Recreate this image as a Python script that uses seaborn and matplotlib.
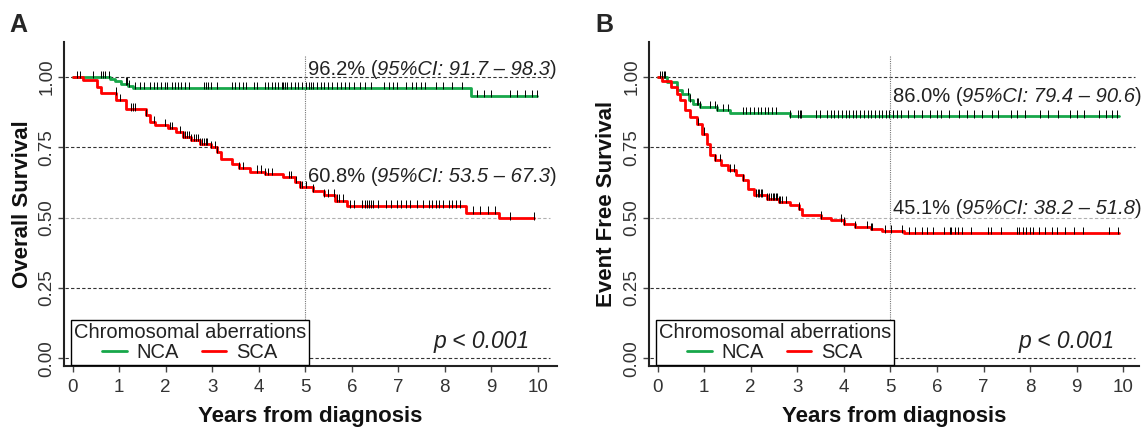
import numpy as np
import pandas as pd
import matplotlib
matplotlib.use('Agg')
import matplotlib.pyplot as plt
import seaborn as sns
from matplotlib.lines import Line2D

# ---- data ----
groups = ['NCA', 'SCA']
colors = ['#17A74A', '#FF0000']
legend_title = 'Chromosomal aberrations'
panel_letters = ['A', 'B']
y_labels = ['Overall Survival', 'Event Free Survival']
x_label = 'Years from diagnosis'
p_text = 'p < 0.001'

# A: overall survival, step curves (time in years, survival)
os_nca_time = [0, 0.80, 0.92, 1.05, 1.20, 1.30, 8.56, 9.98]
os_nca_surv = [1.0, 0.992, 0.985, 0.977, 0.969, 0.962, 0.933, 0.933]
os_sca_time = [0, 0.22, 0.52, 0.62, 0.94, 1.14, 1.58, 1.66, 1.78, 2.06, 2.22, 2.38, 2.54, 2.74,
               2.98, 3.10, 3.18, 3.42, 3.58, 3.81, 4.13, 4.53, 4.77, 4.89, 5.17, 5.41, 5.65, 5.89,
               8.46, 9.16, 9.92]
os_sca_surv = [1.0, 0.989, 0.965, 0.942, 0.918, 0.885, 0.864, 0.840, 0.829, 0.819, 0.805, 0.787,
               0.775, 0.763, 0.751, 0.733, 0.710, 0.692, 0.676, 0.664, 0.656, 0.644, 0.626, 0.608,
               0.596, 0.579, 0.561, 0.540, 0.518, 0.497, 0.497]

# B: event free survival
efs_nca_time = [0, 0.21, 0.42, 0.53, 0.67, 0.77, 0.92, 1.27, 1.55, 2.85, 9.92]
efs_nca_surv = [1.0, 0.982, 0.953, 0.941, 0.917, 0.905, 0.893, 0.882, 0.873, 0.860, 0.860]
efs_sca_time = [0, 0.10, 0.28, 0.42, 0.49, 0.60, 0.70, 0.85, 0.95, 1.06, 1.13, 1.23, 1.37, 1.51,
                1.69, 1.83, 1.94, 2.08, 2.36, 2.61, 2.85, 3.03, 3.10, 3.52, 3.73, 4.01, 4.23, 4.58,
                4.82, 5.30, 9.91]
efs_sca_surv = [1.0, 0.988, 0.964, 0.941, 0.917, 0.882, 0.858, 0.834, 0.799, 0.763, 0.722, 0.704,
                0.686, 0.668, 0.650, 0.633, 0.603, 0.579, 0.567, 0.556, 0.544, 0.532, 0.508, 0.500,
                0.490, 0.479, 0.467, 0.459, 0.451, 0.445, 0.445]

# censoring times
os_nca_cens = [0.10, 0.16, 0.45, 0.61, 0.65, 0.70, 0.78, 1.14, 1.18, 1.22, 1.34, 1.46, 1.54, 1.66,
               1.74, 1.82, 1.90, 1.98, 2.04, 2.14, 2.20, 2.26, 2.34, 2.42, 2.50, 2.82, 2.86, 2.92,
               2.98, 3.10, 3.42, 3.50, 3.58, 3.66, 3.73, 3.89, 3.97, 4.13, 4.21, 4.29, 4.36, 4.41,
               4.49, 4.53, 4.57, 4.61, 4.69, 4.77, 4.85, 4.93, 5.01, 5.09, 5.13, 5.17, 5.25, 5.33,
               5.41, 5.49, 5.57, 5.69, 5.77, 5.85, 5.93, 6.05, 6.17, 6.29, 6.41, 6.69, 6.81, 6.89,
               6.97, 7.17, 7.29, 7.37, 7.49, 7.57, 7.81, 7.96, 8.16, 8.36, 8.68, 8.84, 9.00, 9.40,
               9.56, 9.72, 9.88, 9.98]
os_sca_cens = [0.93, 1.02, 1.26, 1.30, 1.34, 1.58, 1.74, 1.98, 2.10, 2.14, 2.30, 2.38, 2.42, 2.46,
               2.50, 2.54, 2.62, 2.66, 2.70, 2.74, 2.78, 2.82, 2.86, 2.90, 2.98, 3.06, 3.10, 3.58,
               3.66, 3.97, 4.05, 4.13, 4.21, 4.29, 4.65, 4.69, 4.81, 4.89, 4.93, 5.01, 5.17, 5.41,
               5.49, 5.61, 5.69, 5.73, 5.81, 5.97, 6.05, 6.21, 6.29, 6.33, 6.37, 6.41, 6.45, 6.57,
               6.73, 6.85, 6.97, 7.05, 7.17, 7.25, 7.41, 7.53, 7.65, 7.73, 7.81, 7.88, 7.96, 8.08,
               8.16, 8.24, 8.32, 8.60, 8.76, 8.92, 9.08, 9.40, 9.92]
efs_nca_cens = [0.06, 0.09, 0.13, 0.17, 0.65, 0.69, 0.84, 0.88, 0.92, 1.12, 1.24, 1.28, 1.40, 1.51,
                1.83, 1.91, 1.99, 2.07, 2.15, 2.23, 2.30, 2.38, 2.46, 2.54, 2.85, 3.01, 3.05, 3.09,
                3.41, 3.49, 3.64, 3.72, 3.80, 3.88, 3.96, 4.04, 4.12, 4.20, 4.27, 4.35, 4.43, 4.51,
                4.59, 4.67, 4.75, 4.83, 4.91, 4.98, 5.06, 5.14, 5.22, 5.38, 5.50, 5.69, 5.85, 6.01,
                6.09, 6.25, 6.48, 6.64, 6.80, 6.96, 7.19, 7.31, 7.59, 7.71, 7.90, 8.22, 8.38, 8.61,
                8.85, 9.01, 9.16, 9.48, 9.64, 9.76, 9.87]
efs_sca_cens = [0.88, 0.99, 1.23, 1.34, 1.55, 1.65, 1.83, 2.11, 2.15, 2.18, 2.22, 2.25, 2.36, 2.40,
                2.43, 2.47, 2.50, 2.54, 2.57, 2.61, 2.64, 2.68, 2.75, 3.03, 3.52, 3.94, 4.01, 4.23,
                4.50, 4.58, 4.61, 4.89, 5.01, 5.24, 5.40, 5.52, 5.68, 5.79, 5.91, 6.15, 6.27, 6.30,
                6.38, 6.46, 6.54, 6.74, 7.09, 7.17, 7.37, 7.72, 7.76, 7.84, 7.92, 8.00, 8.07, 8.19,
                8.31, 8.47, 8.58, 8.74, 8.94, 9.13, 9.69, 9.88]

# 5-year estimates
os_est = ['96.2%', '60.8%']
os_ci = ['95%CI: 91.7 \u2013 98.3', '95%CI: 53.5 \u2013 67.3']
os_est_y = [1.007, 0.626]
efs_est = ['86.0%', '45.1%']
efs_ci = ['95%CI: 79.4 \u2013 90.6', '95%CI: 38.2 \u2013 51.8']
efs_est_y = [0.912, 0.513]

# ---- style ----
sns.set_style('white')
plt.rcParams['font.family'] = ['Liberation Sans', 'DejaVu Sans']
TXT = '#222222'

fig = plt.figure(figsize=(11.45, 4.3), dpi=100)
ax_a = fig.add_axes([0.0559, 0.1488, 0.4306, 0.7535])
ax_b = fig.add_axes([0.5668, 0.1488, 0.4280, 0.7535])


def surv_at(times, surv, t):
    idx = np.searchsorted(times, t, side='right') - 1
    return np.asarray(surv)[idx]


def ci_label(ax, x, y, est, ci):
    t1 = ax.text(x, y, est + ' (', fontsize=14.5, color=TXT, va='baseline', ha='left')
    t2 = ax.annotate(ci, xy=(1, 0), xycoords=t1, va='bottom', ha='left', fontsize=14.5,
                     style='italic', color=TXT)
    ax.annotate(')', xy=(1, 0), xycoords=t2, va='bottom', ha='left', fontsize=14.5, color=TXT)


def draw_panel(ax, curves, cens, ests, cis, est_y, ylab, xmax):
    ax.set_xlim(-0.183, xmax)
    ax.set_ylim(-0.028, 1.125)

    # reference lines
    ax.hlines([0, 0.25, 0.75, 1.0], -0.17, 10.25, colors='#333333', linestyles=(0, (3, 2)),
              lw=0.8, zorder=1)
    ax.hlines([0.5], -0.17, 10.25, colors='#b0b0b0', linestyles=(0, (3, 2)), lw=0.8, zorder=1)
    ax.vlines(5, -0.028, 1.08, colors='#777777', linestyles=(0, (1, 1)), lw=0.8, zorder=1)

    frames = []
    for g, (t, s) in zip(groups, curves):
        frames.append(pd.DataFrame({'time': t, 'surv': s, 'group': g}))
    df = pd.concat(frames, ignore_index=True)
    sns.lineplot(data=df, x='time', y='surv', hue='group', palette=colors, estimator=None,
                 sort=False, drawstyle='steps-post', lw=2, legend=False, ax=ax, zorder=3)

    for (t, s), c in zip(curves, cens):
        cs = surv_at(t, s, c)
        ax.vlines(c, cs - 0.004, cs + 0.022, colors='black', lw=0.7, zorder=4)

    for e, ci, y in zip(ests, cis, est_y):
        ci_label(ax, 5.05, y, e, ci)

    ax.text(9.82, 0.036, p_text, fontsize=16.5, style='italic', ha='right', va='baseline',
            color=TXT)

    ax.set_xticks(range(11))
    ax.set_yticks([0, 0.25, 0.5, 0.75, 1.0])
    ax.set_yticklabels(['0.00', '0.25', '0.50', '0.75', '1.00'])
    plt.setp(ax.get_yticklabels(), rotation=90, va='center')
    ax.tick_params(bottom=True, left=True, direction='out', length=4, width=1, color='#444444',
                   labelsize=13.5, labelcolor='#333333')
    ax.tick_params(axis='x', pad=5)
    ax.tick_params(axis='y', pad=2)

    sns.despine(ax=ax)
    for sp in ['left', 'bottom']:
        ax.spines[sp].set_color('#222222')
        ax.spines[sp].set_linewidth(1.5)

    ax.set_xlabel(x_label, fontsize=16, fontweight='bold', color='#111111')
    ax.set_ylabel(ylab, fontsize=16, fontweight='bold', color='#111111')
    w = ax.get_position().width * 1145
    ax.yaxis.set_label_coords(-42 / w, 0.5)
    ax.yaxis.label.set_va('center')
    ax.xaxis.set_label_coords(0.5, -0.157)
    ax.xaxis.label.set_va('center')

    handles = [Line2D([], [], color=c, lw=2) for c in colors]
    leg = ax.legend(handles, groups, title=legend_title, ncol=2, loc='lower left',
                    bbox_to_anchor=(0.014, 0.003), borderaxespad=0, fontsize=14.5,
                    title_fontsize=14.5, frameon=True, fancybox=False, edgecolor='black',
                    framealpha=1, handlelength=1.2, handletextpad=0.5, columnspacing=1.15,
                    borderpad=0.15, labelspacing=0.05)
    leg.get_frame().set_linewidth(1.0)
    plt.setp(leg.get_texts(), color=TXT)
    leg.get_title().set_color(TXT)
    leg.set_zorder(5)


draw_panel(ax_a, [(os_nca_time, os_nca_surv), (os_sca_time, os_sca_surv)],
           [os_nca_cens, os_sca_cens], os_est, os_ci, os_est_y, y_labels[0], 10.41)
draw_panel(ax_b, [(efs_nca_time, efs_nca_surv), (efs_sca_time, efs_sca_surv)],
           [efs_nca_cens, efs_sca_cens], efs_est, efs_ci, efs_est_y, y_labels[1], 10.34)

fig.text(0.008, 0.97, panel_letters[0], fontsize=18, fontweight='bold', va='top')
fig.text(0.520, 0.97, panel_letters[1], fontsize=18, fontweight='bold', va='top')

fig.savefig('out.png', dpi=100)
